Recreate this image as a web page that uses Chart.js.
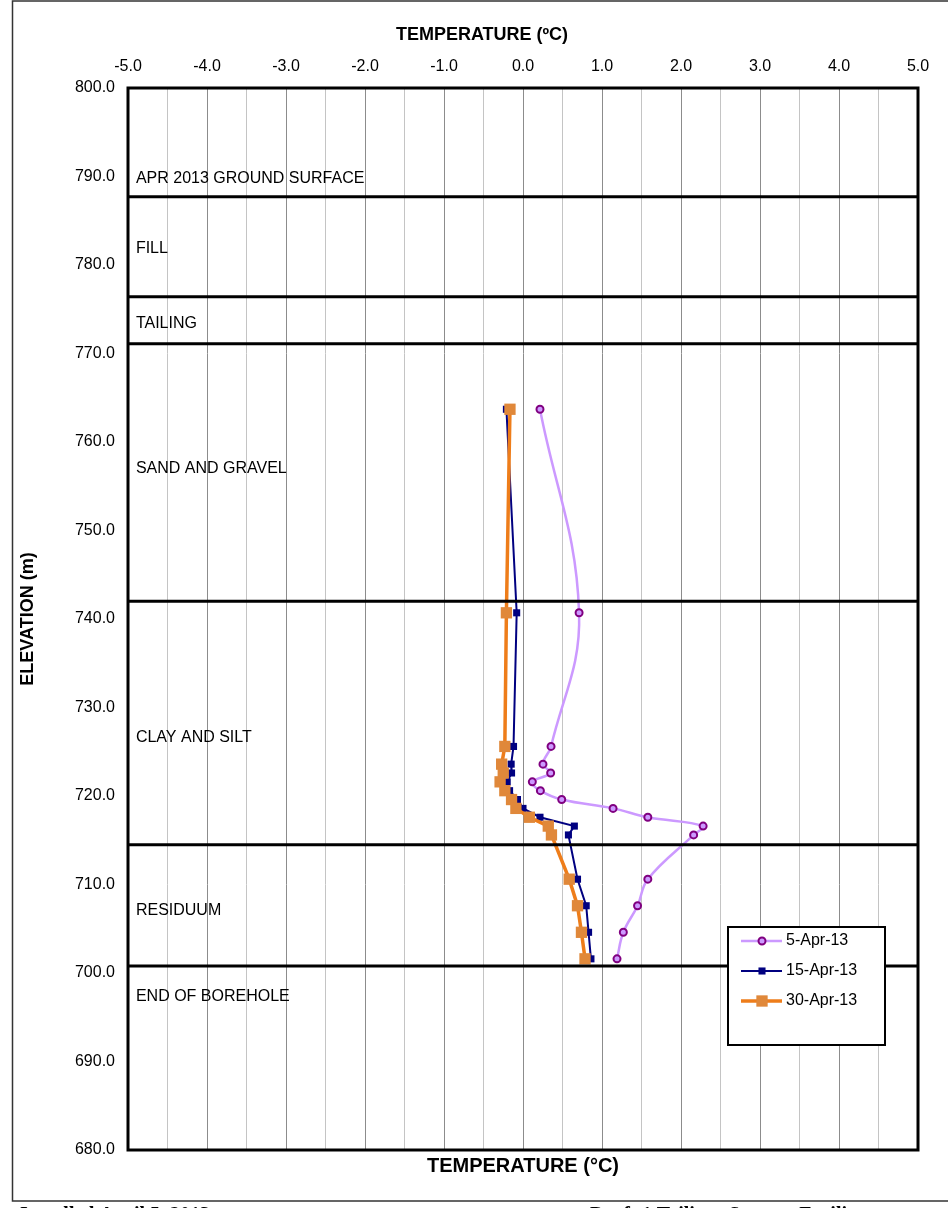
<!DOCTYPE html>
<html>
<head>
<meta charset="utf-8">
<script src="https://cdn.jsdelivr.net/npm/chart.js@4.4.1/dist/chart.umd.min.js"></script>
<style>
  body { margin: 0; background: #fff; }
  canvas { display: block; }
</style>
</head>
<body>
<canvas id="tempChart" width="948" height="1208"></canvas>
<script>
// thermistor elevations (m), shared by all readings
var elevations = [763.7, 740.7, 725.6, 723.6, 722.6, 721.6, 720.6, 719.6, 718.6, 717.6, 716.6, 715.6, 710.6, 707.6, 704.6, 701.6];

// temperature readings (deg C)
var temp5Apr  = [0.215, 0.71, 0.355, 0.253, 0.35, 0.118, 0.22, 0.49, 1.14, 1.58, 2.28, 2.16, 1.58, 1.45, 1.27, 1.19];
var temp15Apr = [-0.21, -0.08, -0.12, -0.15, -0.145, -0.2, -0.17, -0.07, 0.0, 0.215, 0.65, 0.575, 0.69, 0.8, 0.83, 0.86];
var temp30Apr = [-0.165, -0.21, -0.23, -0.27, -0.25, -0.29, -0.23, -0.145, -0.09, 0.08, 0.32, 0.36, 0.585, 0.69, 0.74, 0.785];

var seriesNames = ['5-Apr-13', '15-Apr-13', '30-Apr-13'];

// stratigraphy
var layerLines = [787.7, 776.4, 771.1, 742.0, 714.5, 700.8];
var layerNames = ['APR 2013 GROUND SURFACE', 'FILL', 'TAILING', 'SAND AND GRAVEL', 'CLAY AND SILT', 'RESIDUUM', 'END OF BOREHOLE'];
var layerLabelElev = [789.8, 781.9, 773.4, 757.0, 726.6, 707.1, 697.3];

var xMin = -5, xMax = 5;
var yMin = 680, yMax = 800;

function toPoints(temps) {
  return elevations.map(function (e, i) { return { x: temps[i], y: e }; });
}

var FONT = '"Liberation Sans", Arial, sans-serif';

var datasets = [
  {
    label: seriesNames[0],
    data: toPoints(temp5Apr),
    borderColor: '#CC99FF',
    borderWidth: 2.5,
    tension: 0.4,
    pointStyle: 'circle',
    pointRadius: 3.5,
    pointBorderWidth: 2,
    pointBorderColor: '#800080',
    pointBackgroundColor: '#CC99FF',
    order: 3,
    isSeries: true
  },
  {
    label: seriesNames[1],
    data: toPoints(temp15Apr),
    borderColor: '#000080',
    borderWidth: 2,
    tension: 0,
    pointStyle: 'rect',
    pointRadius: 5,
    pointBorderWidth: 0,
    pointBorderColor: '#000080',
    pointBackgroundColor: '#000080',
    order: 2,
    isSeries: true
  },
  {
    label: seriesNames[2],
    data: toPoints(temp30Apr),
    borderColor: '#EE7D1A',
    borderWidth: 3.5,
    tension: 0,
    pointStyle: 'rect',
    pointRadius: 8,
    pointBorderWidth: 0,
    pointBorderColor: '#E0883A',
    pointBackgroundColor: '#E0883A',
    order: 1,
    isSeries: true
  }
];

// horizontal layer boundaries
layerLines.forEach(function (e) {
  datasets.push({
    label: '',
    data: [{ x: xMin, y: e }, { x: xMax, y: e }],
    borderColor: '#000',
    borderWidth: 3,
    pointRadius: 0,
    order: 0,
    isSeries: false
  });
});

var decor = {
  id: 'decor',
  beforeDraw: function (chart) {
    var ctx = chart.ctx;
    ctx.save();
    ctx.fillStyle = '#fff';
    ctx.fillRect(0, 0, chart.width, chart.height);
    // page frame
    ctx.strokeStyle = '#333';
    ctx.lineWidth = 1.5;
    ctx.beginPath();
    ctx.moveTo(chart.width, 1);
    ctx.lineTo(12.5, 1);
    ctx.lineTo(12.5, 1201);
    ctx.lineTo(chart.width, 1201);
    ctx.stroke();
    // footer text (cut off by the page edge)
    ctx.fillStyle = '#000';
    ctx.font = 'bold 20px "Liberation Serif", serif';
    ctx.textBaseline = 'alphabetic';
    ctx.textAlign = 'left';
    ctx.fillText('Installed April 5, 2013', 20, 1221);
    ctx.fillText('Draft 1 Tailings Storage Facility', 590, 1221);
    // top axis title (sits left of the plot centre in the original)
    ctx.font = 'bold 18px ' + FONT;
    ctx.textAlign = 'center';
    ctx.textBaseline = 'middle';
    ctx.fillText('TEMPERATURE (\u00BAC)', 482, 35);
    ctx.restore();
  },
  afterDatasetsDraw: function (chart) {
    var ctx = chart.ctx, a = chart.chartArea;
    var xs = chart.scales.x, ys = chart.scales.y;
    ctx.save();
    // layer names
    ctx.fillStyle = '#000';
    ctx.font = '16px ' + FONT;
    ctx.textAlign = 'left';
    ctx.textBaseline = 'middle';
    layerNames.forEach(function (name, i) {
      ctx.fillText(name, xs.getPixelForValue(-4.9), ys.getPixelForValue(layerLabelElev[i]));
    });
    // plot border
    ctx.strokeStyle = '#000';
    ctx.lineWidth = 3;
    ctx.strokeRect(a.left, a.top, a.right - a.left, a.bottom - a.top);
    ctx.restore();
  },
  afterDraw: function (chart) {
    var ctx = chart.ctx;
    var lx = 728, ly = 927, lw = 157, lh = 118;
    ctx.save();
    ctx.fillStyle = '#fff';
    ctx.fillRect(lx, ly, lw, lh);
    ctx.strokeStyle = '#000';
    ctx.lineWidth = 2;
    ctx.strokeRect(lx, ly, lw, lh);
    var row = 0;
    chart.data.datasets.forEach(function (ds) {
      if (!ds.isSeries) return;
      var y = ly + 14 + row * 30;
      ctx.strokeStyle = ds.borderColor;
      ctx.lineWidth = ds.borderWidth;
      ctx.beginPath();
      ctx.moveTo(741, y);
      ctx.lineTo(782, y);
      ctx.stroke();
      ctx.fillStyle = ds.pointBackgroundColor;
      if (ds.pointStyle === 'circle') {
        ctx.beginPath();
        ctx.arc(762, y, ds.pointRadius, 0, Math.PI * 2);
        ctx.fill();
        ctx.strokeStyle = ds.pointBorderColor;
        ctx.lineWidth = ds.pointBorderWidth;
        ctx.stroke();
      } else {
        var s = ds.pointRadius * Math.SQRT1_2;
        ctx.fillRect(762 - s, y - s, 2 * s, 2 * s);
      }
      ctx.fillStyle = '#000';
      ctx.font = '16px ' + FONT;
      ctx.textAlign = 'left';
      ctx.textBaseline = 'middle';
      ctx.fillText(ds.label, 786, y);
      row++;
    });
    ctx.restore();
  }
};

var ctx = document.getElementById('tempChart').getContext('2d');
var tempChart = new Chart(ctx, {
  type: 'line',
  data: { datasets: datasets },
  options: {
    responsive: false,
    animation: false,
    layout: { padding: { left: 0, right: 30, top: 0, bottom: 0 } },
    scales: {
      x: {
        type: 'linear',
        position: 'top',
        min: xMin,
        max: xMax,
        afterFit: function (s) { s.height = 88; },
        ticks: {
          stepSize: 0.5,
          autoSkip: false,
          maxRotation: 0,
          padding: 12,
          color: '#000',
          font: { family: FONT, size: 16 },
          callback: function (v) { return Number.isInteger(v) ? v.toFixed(1) : ''; }
        },
        grid: {
          drawTicks: false,
          lineWidth: 1,
          color: function (c) {
            return c.tick && Number.isInteger(c.tick.value) ? '#8c8c8c' : '#c4c4c4';
          }
        },
        border: { display: false }
      },
      x2: {
        type: 'linear',
        position: 'bottom',
        min: xMin,
        max: xMax,
        afterFit: function (s) { s.height = 58; },
        ticks: { display: false },
        grid: { display: false, drawTicks: false },
        border: { display: false },
        title: {
          display: true,
          text: 'TEMPERATURE (\u00B0C)',
          color: '#000',
          font: { family: FONT, size: 20, weight: 'bold' },
          padding: { top: 0, bottom: 30 }
        }
      },
      y: {
        type: 'linear',
        min: yMin,
        max: yMax,
        afterFit: function (s) { s.width = 128; },
        ticks: {
          stepSize: 10,
          padding: 13,
          color: '#000',
          font: { family: FONT, size: 16 },
          callback: function (v) { return v.toFixed(1); }
        },
        grid: { display: false, drawTicks: false },
        border: { display: false },
        title: {
          display: true,
          text: 'ELEVATION (m)',
          color: '#000',
          font: { family: FONT, size: 18, weight: 'bold' },
          padding: { top: 17, bottom: 0 }
        }
      }
    },
    plugins: {
      legend: { display: false },
      tooltip: { enabled: false }
    }
  },
  plugins: [decor]
});
</script>
</body>
</html>
